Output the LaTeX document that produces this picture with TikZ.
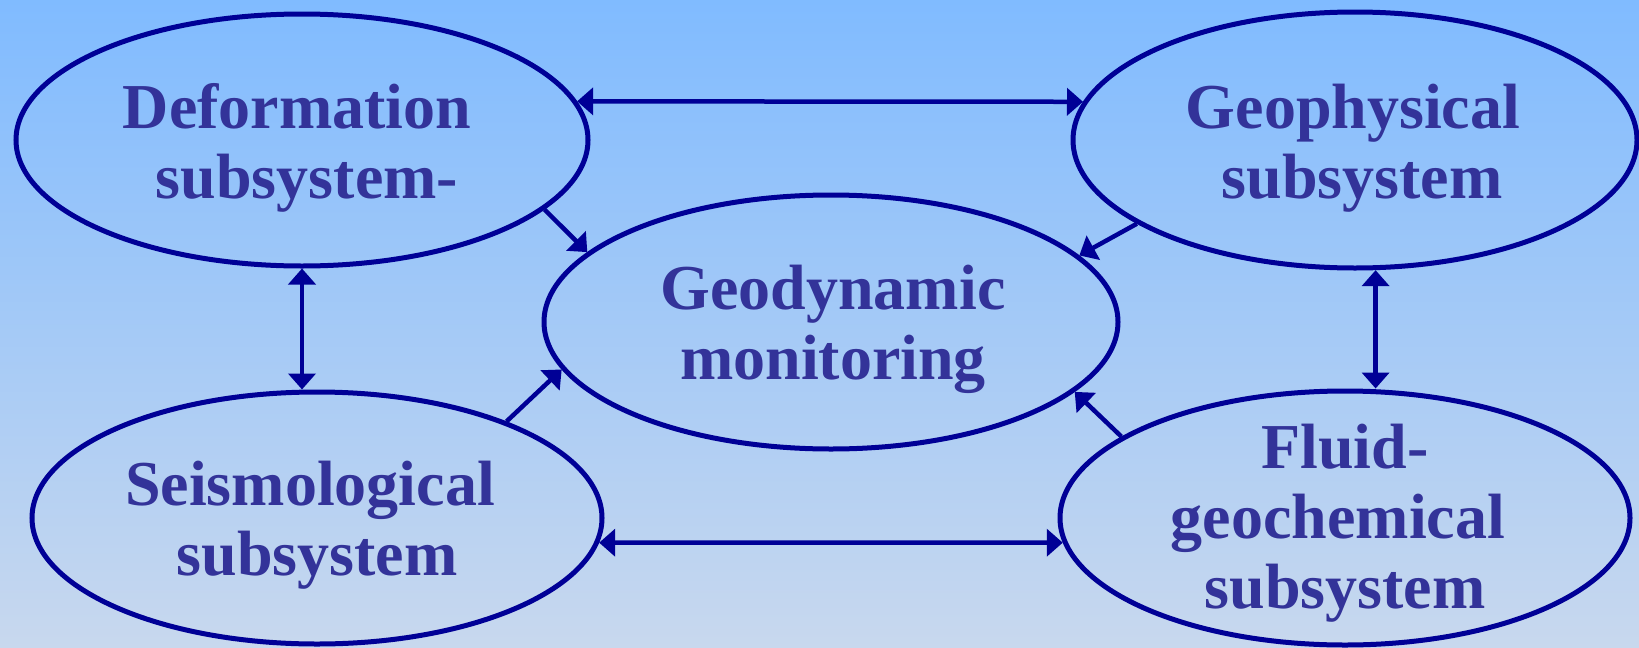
\documentclass[tikz,border=0pt]{standalone}
\usepackage{fontspec}
\setmainfont{Liberation Serif}
\usetikzlibrary{shapes.geometric,arrows.meta}
\definecolor{bgtop}{RGB}{128,187,255}
\definecolor{bgbot}{RGB}{200,216,238}
\definecolor{edgeblue}{RGB}{0,0,150}
\definecolor{txtblue}{RGB}{51,51,153}
\begin{document}
\begin{tikzpicture}[x=1pt,y=-1pt,
  sub/.style={ellipse,draw=edgeblue,line width=5pt,inner sep=0pt},
  lbl/.style={align=center,inner sep=0pt,text=txtblue,
    font=\fontsize{64}{70}\selectfont\bfseries},
  link/.style={draw=edgeblue,line width=4.5pt,-{Triangle[length=16pt,width=27pt]}},
  dlink/.style={link,{Triangle[length=16pt,width=27pt]}-{Triangle[length=16pt,width=27pt]}}]
\shade[top color=bgtop,bottom color=bgbot] (0,0) rectangle (1639,648);
\useasboundingbox (0,0) rectangle (1639,648);
\node[sub,minimum width=572pt,minimum height=252pt] (def) at (302,140) {};
\node[sub,minimum width=564pt,minimum height=256pt] (geo) at (1355,140) {};
\node[sub,minimum width=574pt,minimum height=254pt] (gd) at (831,322) {};
\node[sub,minimum width=570pt,minimum height=252pt] (sei) at (317,518) {};
\node[sub,minimum width=570pt,minimum height=254pt] (flu) at (1345,518) {};
\node[lbl] (def-t) at (297,148) {Deformation\\\hspace*{20pt}subsystem-};
\node[lbl] (geo-t) at (1353,148) {Geophysical\\\hspace*{18pt}subsystem};
\node[lbl] (gd-t) at (833,329) {Geodynamic\\monitoring};
\node[lbl] (sei-t) at (310,525) {Seismological\\\hspace*{14pt}subsystem};
\node[lbl] (flu-t) at (1345,523) {Fluid-\\geochemical\rule{14pt}{0pt}\\subsystem};
\draw[dlink] (def.8) -- (geo.172);
\draw[link] (def.-16) -- (gd.164);
\draw[link] (geo.201) -- (gd.15);
\draw[dlink] (def.south) -- (def.south |- sei.north);
\draw[dlink] (geo.-81) -- (geo.-81 |- flu.north);
\draw[link] (sei.27) -- (gd.190);
\draw[link] (flu.160) -- (gd.-16);
\draw[dlink] (sei.-5) -- (flu.185);
\end{tikzpicture}
\end{document}
